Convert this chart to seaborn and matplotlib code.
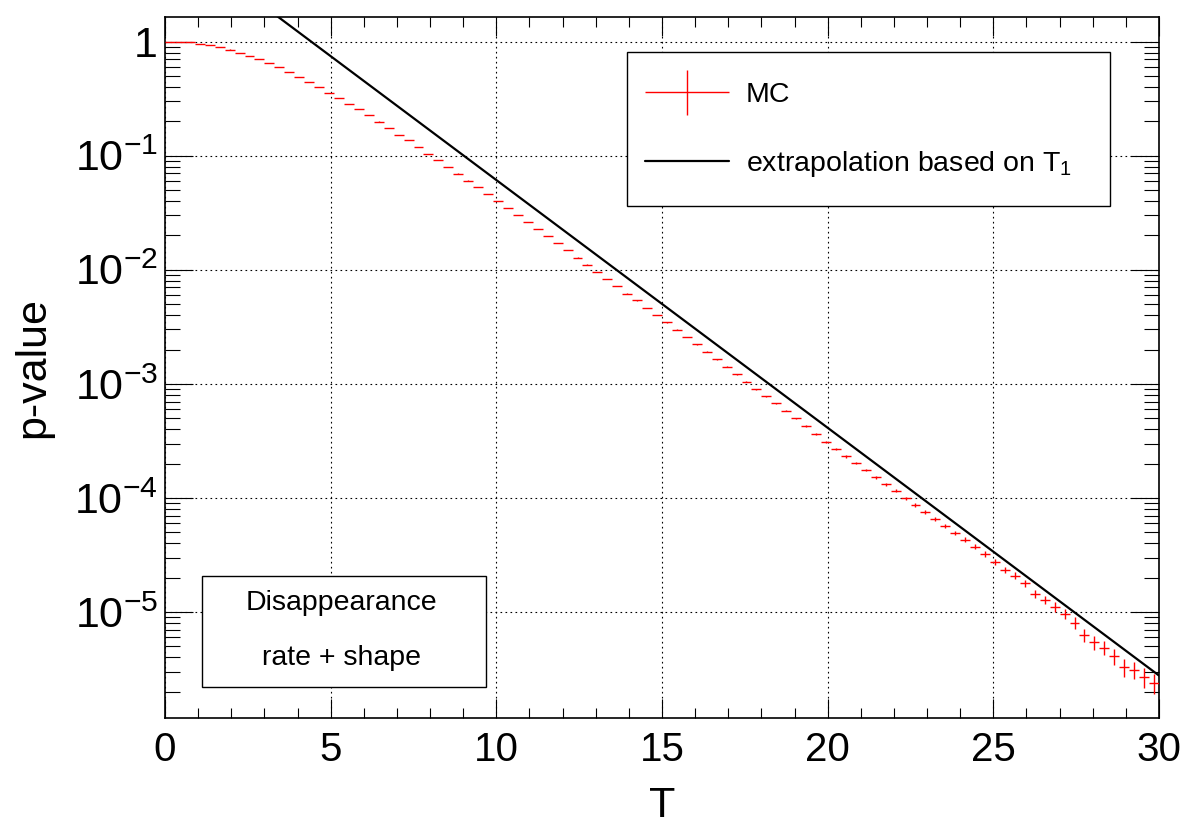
import numpy as np
import pandas as pd
import seaborn as sns
import matplotlib.pyplot as plt
import matplotlib.ticker as mticker
from matplotlib.patches import Rectangle
from matplotlib.legend_handler import HandlerErrorbar

# MC histogram: 100 bins of width 0.3 between T=0 and T=30
t_edges = np.linspace(0.0, 30.0, 101)
p_mc = [
    1.00, 0.995, 0.982, 0.959, 0.929, 0.897, 0.851, 0.800, 0.752, 0.700,
    0.646, 0.596, 0.542, 0.493, 0.443, 0.401, 0.357, 0.318, 0.284, 0.254,
    0.225, 0.199, 0.175, 0.153, 0.136, 0.119, 0.104, 0.0912, 0.0796, 0.0697,
    0.0605, 0.0530, 0.0462, 0.0402, 0.0348, 0.0303, 0.0263, 0.0227, 0.0197, 0.0171,
    0.0149, 0.0128, 0.0111, 0.00959, 0.00832, 0.00718, 0.00619, 0.00538, 0.00463, 0.00400,
    0.00345, 0.00298, 0.00257, 0.00222, 0.00191, 0.00164, 0.00141, 0.00121, 0.00104, 8.99e-4,
    7.76e-4, 6.75e-4, 5.81e-4, 4.98e-4, 4.27e-4, 3.63e-4, 3.10e-4, 2.67e-4, 2.31e-4, 2.01e-4,
    1.75e-4, 1.52e-4, 1.32e-4, 1.16e-4, 9.98e-5, 8.67e-5, 7.57e-5, 6.58e-5, 5.71e-5, 4.92e-5,
    4.31e-5, 3.73e-5, 3.23e-5, 2.73e-5, 2.35e-5, 2.08e-5, 1.79e-5, 1.45e-5, 1.28e-5, 1.11e-5,
    9.68e-6, 8.07e-6, 6.25e-6, 5.43e-6, 4.88e-6, 4.09e-6, 3.28e-6, 3.13e-6, 2.70e-6, 2.40e-6,
]
n_toys = 1.0e7  # number of pseudo-experiments (sets the error bars)

# extrapolation based on T1 (straight line in log scale)
line_T = [0.0, 30.0]
line_p = [9.06, 2.78e-6]

x_ticks = [0, 5, 10, 15, 20, 25, 30]
y_ticks = [1.0, 1e-1, 1e-2, 1e-3, 1e-4, 1e-5]
y_tick_labels = ["1", r"$\mathregular{10^{-1}}$", r"$\mathregular{10^{-2}}$",
                 r"$\mathregular{10^{-3}}$", r"$\mathregular{10^{-4}}$",
                 r"$\mathregular{10^{-5}}$"]

sns.set_style("ticks")
plt.rcParams["font.family"] = ["Liberation Sans", "DejaVu Sans"]
plt.rcParams["mathtext.fontset"] = "custom"
plt.rcParams["mathtext.rm"] = "Liberation Sans"
for key in ["text.color", "axes.labelcolor", "xtick.color", "ytick.color", "axes.edgecolor"]:
    plt.rcParams[key] = "black"

mc = pd.DataFrame({"T": (t_edges[:-1] + t_edges[1:]) / 2, "p": p_mc})
mc["halfwidth"] = np.diff(t_edges) / 2
mc["err"] = np.sqrt(mc["p"] / n_toys)
ext = pd.DataFrame({"T": line_T, "p": line_p})

fig = plt.figure(figsize=(11.82, 8.38), dpi=100)
ax = fig.add_axes([165 / 1182, 120 / 838, 994 / 1182, 701 / 838])
ax.set_yscale("log")

eb = ax.errorbar(mc["T"], mc["p"], xerr=mc["halfwidth"], yerr=mc["err"],
                 fmt="none", ecolor="red", elinewidth=1.0, capsize=0, zorder=3)
sns.lineplot(data=ext, x="T", y="p", color="black", linewidth=1.6, ax=ax,
             zorder=4)
line = ax.lines[-1]

ax.set_xlim(0, 30)
ax.set_ylim(1.18e-6, 1.64)

ax.set_xticks(x_ticks)
ax.xaxis.set_minor_locator(mticker.MultipleLocator(1))
ax.set_yticks(y_ticks)
ax.set_yticklabels(y_tick_labels)
ax.yaxis.set_minor_locator(mticker.LogLocator(base=10, subs=np.arange(2, 10), numticks=20))
ax.yaxis.set_minor_formatter(mticker.NullFormatter())

ax.tick_params(which="both", direction="in", top=True, right=True, color="black", width=0.8)
ax.tick_params(axis="x", which="major", length=14, labelsize=29, pad=9)
ax.tick_params(axis="x", which="minor", length=7)
ax.tick_params(axis="y", which="major", length=20, labelsize=31, pad=5)
ax.tick_params(axis="y", which="minor", length=11)

for s in ax.spines.values():
    s.set_color("black")
    s.set_linewidth(1.2)

ax.grid(True, which="major", color="black", linestyle=(0, (1.5, 3)), linewidth=0.8)

ax.set_xlabel("T", fontsize=31)
ax.set_ylabel("p-value", fontsize=31)
ax.xaxis.set_label_coords(0.5, -0.097)
ax.yaxis.set_label_coords(-0.112, 0.5)

# legend: frame drawn as a separate box, entries placed inside it
ax.add_patch(Rectangle((0.465, 0.730), 0.486, 0.220, transform=ax.transAxes,
                       facecolor="white", edgecolor="black", linewidth=1.0, zorder=5))
leg = ax.legend([eb, line], ["MC", r"extrapolation based on $\mathregular{T_1}$"],
                loc="upper left", bbox_to_anchor=(0.4829, 0.907),
                fontsize=20.5, frameon=False, handlelength=2.95,
                handletextpad=0.6, borderpad=0, labelspacing=1.42,
                borderaxespad=0,
                handler_map={eb: HandlerErrorbar(xerr_size=1.48, yerr_size=0.79)})
leg.set_zorder(6)

ax.add_patch(Rectangle((0.0369, 0.0438), 0.2857, 0.1588, transform=ax.transAxes,
                       facecolor="white", edgecolor="black", linewidth=1.0, zorder=5))
ax.text(0.1778, 0.164, "Disappearance", transform=ax.transAxes, ha="center",
        va="center", fontsize=20.5, zorder=6)
ax.text(0.1778, 0.0856, "rate + shape", transform=ax.transAxes, ha="center",
        va="center", fontsize=20.5, zorder=6)

fig.savefig("out.png", dpi=100)
